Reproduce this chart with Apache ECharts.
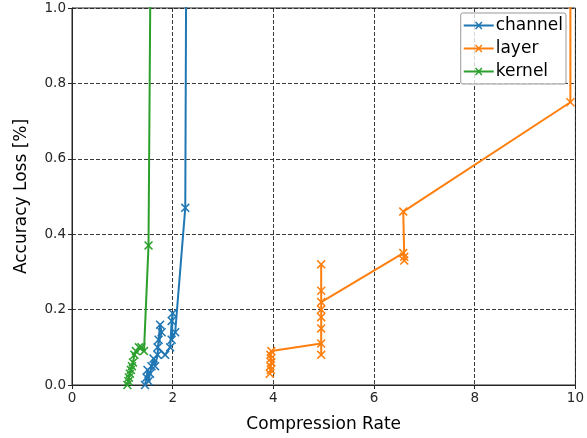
<!DOCTYPE html>
<html><head><meta charset="utf-8">
<script src="https://cdn.jsdelivr.net/npm/echarts@6/dist/echarts.min.js"></script>
<style>html,body{margin:0;padding:0;background:#fff}#c{width:587px;height:438px}</style>
</head><body><div id="c"></div>
<script>
const seriesNames = ['channel', 'layer', 'kernel'];
const channelX = [1.45,1.48,1.50,1.52,1.55,1.58,1.62,1.65,1.70,1.72,1.75,1.78,1.70,1.85,1.95,1.98,2.00,1.98,2.05,2.25,2.28];
const channelY = [0.00,0.02,0.04,0.01,0.03,0.05,0.07,0.05,0.08,0.12,0.16,0.14,0.10,0.08,0.10,0.17,0.19,0.12,0.14,0.47,1.50];
const layerX = [3.93,3.95,3.94,3.96,3.95,3.94,3.96,4.95,4.95,4.95,4.95,4.95,4.95,4.95,4.95,6.58,6.60,6.60,6.58,9.90,9.90];
const layerY = [0.03,0.04,0.05,0.06,0.07,0.08,0.09,0.11,0.08,0.15,0.18,0.20,0.25,0.32,0.22,0.35,0.33,0.34,0.46,0.75,1.50];
const kernelX = [1.10,1.12,1.13,1.15,1.17,1.19,1.21,1.24,1.27,1.33,1.38,1.43,1.52,1.58];
const kernelY = [0.00,0.01,0.02,0.03,0.04,0.05,0.06,0.08,0.09,0.10,0.10,0.09,0.37,1.50];
const xTicks = [0, 2, 4, 6, 8, 10];
const yTicks = [0.0, 0.2, 0.4, 0.6, 0.8, 1.0];
const colors = ['#1f77b4', '#ff7f0e', '#2ca02c'];

const xMark = 'path://M0,1.2 L1.2,0 L5,3.8 L8.8,0 L10,1.2 L6.2,5 L10,8.8 L8.8,10 L5,6.2 L1.2,10 L0,8.8 L3.8,5 Z';
const legIcon = 'path://M0,4.1 H30 V5.9 H0 Z M11.3,2 L12.3,1 L15,3.7 L17.7,1 L18.7,2 L16,4.7 L16,5.3 L18.7,8 L17.7,9 L15,6.3 L12.3,9 L11.3,8 L14,5.3 L14,4.7 Z';

function pairs(xs, ys){ return xs.map((x,i)=>[x, ys[i]]); }
const allX = [channelX, layerX, kernelX];
const allY = [channelY, layerY, kernelY];

const chart = echarts.init(document.getElementById('c'), null, {renderer:'canvas'});
const font = 'DejaVu Sans';
chart.setOption({
  animation: false,
  textStyle: {fontFamily: font},
  grid: {left: 72, right: 8, top: 8, bottom: 53, show: true, borderColor: '#262626', borderWidth: 1, containLabel: false},
  legend: {
    data: seriesNames.map(n => ({name: n, icon: legIcon})),
    orient: 'vertical', right: 21, top: 13,
    itemWidth: 30, itemHeight: 10, itemGap: 6,
    padding: [4, 3, 4, 3],
    borderColor: '#999', borderWidth: 1, borderRadius: 2, backgroundColor: 'rgba(255,255,255,0.8)',
    textStyle: {fontFamily: font, fontSize: 17, color: '#000', padding: [0,0,0,-3]}
  },
  xAxis: {
    type: 'value', min: 0, max: 10, interval: 2,
    name: 'Compression Rate', nameLocation: 'middle', nameGap: 31,
    nameTextStyle: {fontFamily: font, fontSize: 17, color: '#000'},
    axisLine: {show: true, onZero: false, lineStyle: {color: '#262626'}},
    axisTick: {show: true, length: 4, lineStyle: {color: '#262626'}},
    axisLabel: {fontFamily: font, fontSize: 13.5, color: '#262626', margin: 6, formatter: v => String(v)},
    splitLine: {show: true, lineStyle: {color: '#222', type: [4, 2], width: 0.9}}
  },
  yAxis: {
    type: 'value', min: 0, max: 1, interval: 0.2,
    name: 'Accuracy Loss [%]', nameLocation: 'middle', nameGap: 42,
    nameTextStyle: {fontFamily: font, fontSize: 17, color: '#000'},
    axisLine: {show: true, onZero: false, lineStyle: {color: '#262626'}},
    axisTick: {show: true, length: 4, lineStyle: {color: '#262626'}},
    axisLabel: {fontFamily: font, fontSize: 13.5, color: '#262626', margin: 6, formatter: v => v.toFixed(1)},
    splitLine: {show: true, lineStyle: {color: '#222', type: [4, 2], width: 0.9}}
  },
  series: seriesNames.map((n, i) => ({
    name: n, type: 'line', data: pairs(allX[i], allY[i]),
    clip: true, symbol: xMark, symbolSize: 9, showAllSymbol: true,
    lineStyle: {color: colors[i], width: 2},
    itemStyle: {color: colors[i]},
    emphasis: {disabled: true}
  }))
});
</script></body></html>
